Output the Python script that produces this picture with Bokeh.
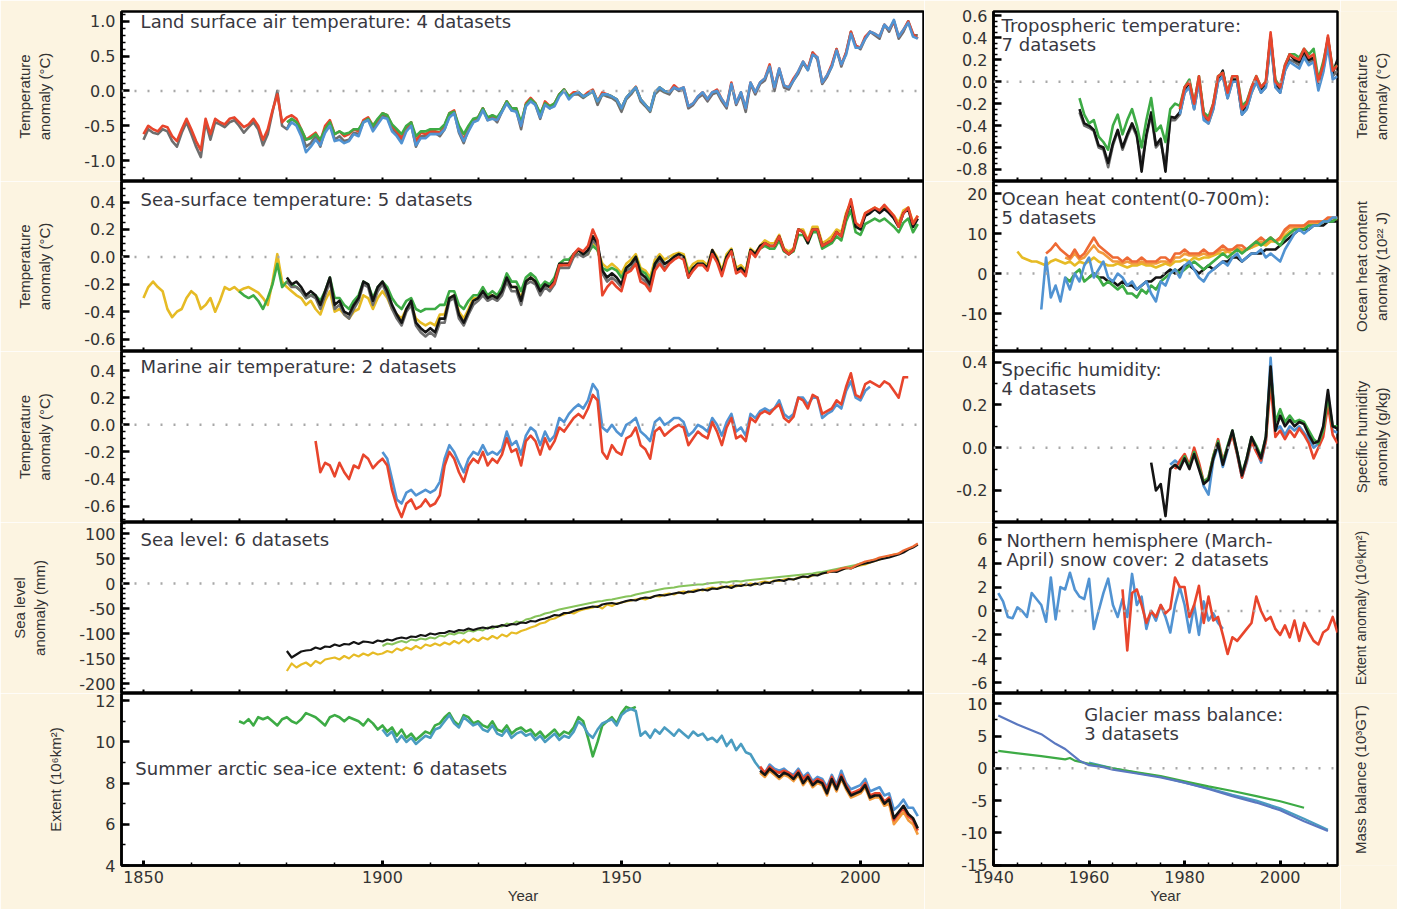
import math
from bokeh.plotting import figure
from bokeh.layouts import row, column
from bokeh.models import Range1d, FixedTicker, Span, Label, NumeralTickFormatter
from bokeh.embed import file_html
from bokeh.resources import INLINE

# ======================= DATA =======================
# ---- Land surface air temperature (degC) ----
LAND_GRAY_START = 1850
LAND_GRAY = [-.70,-.55,-.60,-.62,-.55,-.58,-.72,-.80,-.60,-.45,
             -.62,-.80,-.95,-.45,-.70,-.45,-.48,-.52,-.45,-.42,
             -.50,-.60,-.52,-.45,-.55,-.78,-.62,-.30,.00,-.50,
             -.55,-.40,-.45,-.60,-.80,-.75,-.65,-.80,-.55,-.45,
             -.70,-.65,-.72,-.70,-.60,-.62,-.45,-.40,-.55,-.45,
             -.35,-.38,-.55,-.62,-.72,-.55,-.48,-.80,-.65,-.65,
             -.60,-.60,-.65,-.55,-.35,-.30,-.60,-.75,-.55,-.45,
             -.40,-.25,-.42,-.38,-.45,-.30,-.15,-.28,-.28,-.55,
             -.20,-.12,-.20,-.40,-.18,-.25,-.20,-.05,.02,-.10,
             -.05,-.05,-.10,-.05,.00,-.20,-.05,-.08,-.10,-.15,
             -.30,-.12,-.05,.05,-.15,-.22,-.30,-.05,.02,-.02,
             -.05,.05,.00,.02,-.25,-.20,-.10,-.05,-.15,-.05,
             -.02,-.15,-.25,.10,-.20,-.05,-.30,.10,-.05,.10,
             .15,.35,.00,.30,.05,.02,.15,.25,.40,.30,
             .55,.45,.10,.20,.35,.60,.35,.55,.85,.65,
             .60,.75,.85,.80,.75,.95,.85,1.00,.75,.85,
             1.00,.80,.80]
LAND_RED_START = 1850
LAND_RED = [-.62,-.50,-.55,-.58,-.50,-.52,-.65,-.72,-.55,-.40,
            -.55,-.72,-.85,-.40,-.62,-.40,-.45,-.48,-.40,-.38,
            -.45,-.52,-.48,-.40,-.50,-.70,-.55,-.28,-.05,-.45,
            -.38,-.35,-.40,-.55,-.70,-.65,-.60,-.72,-.50,-.42,
            -.62,-.58,-.65,-.62,-.55,-.58,-.42,-.38,-.50,-.42,
            -.32,-.35,-.50,-.58,-.68,-.52,-.45,-.72,-.60,-.62,
            -.58,-.58,-.60,-.50,-.32,-.28,-.55,-.70,-.52,-.42,
            -.38,-.25,-.40,-.35,-.42,-.28,-.15,-.25,-.25,-.50,
            -.18,-.10,-.18,-.35,-.15,-.22,-.18,-.05,.02,-.08,
            -.02,-.02,-.08,-.02,.02,-.15,-.02,-.05,-.08,-.12,
            -.25,-.10,-.02,.06,-.12,-.20,-.28,-.02,.05,.00,
            -.02,.08,.02,.05,-.22,-.18,-.08,-.02,-.12,-.02,
            .02,-.12,-.22,.12,-.18,-.02,-.25,.12,-.02,.12,
            .18,.38,.05,.32,.08,.05,.18,.28,.42,.32,
            .55,.48,.12,.22,.38,.60,.38,.55,.85,.65,
            .62,.78,.85,.82,.78,.95,.88,1.00,.78,.88,
            1.00,.82,.75]
LAND_GREEN_START = 1880
LAND_GREEN = [-.45,-.40,-.45,-.55,-.70,-.68,-.62,-.70,-.55,-.45,
              -.62,-.58,-.62,-.60,-.55,-.55,-.45,-.40,-.50,-.40,
              -.32,-.35,-.48,-.55,-.62,-.50,-.45,-.65,-.58,-.58,
              -.55,-.55,-.55,-.48,-.32,-.30,-.50,-.62,-.50,-.40,
              -.38,-.25,-.38,-.35,-.38,-.28,-.15,-.25,-.25,-.45,
              -.20,-.12,-.18,-.32,-.18,-.22,-.18,-.05,.02,-.08,
              -.05,-.02,-.08,-.05,.00,-.15,-.05,-.05,-.08,-.12,
              -.25,-.10,-.02,.05,-.12,-.20,-.28,-.02,.05,.00,
              -.02]
LAND_BLUE_START = 1880
LAND_BLUE = [-.55,-.45,-.50,-.65,-.88,-.80,-.70,-.78,-.60,-.50,
             -.72,-.70,-.75,-.72,-.62,-.65,-.45,-.42,-.58,-.48,
             -.38,-.40,-.58,-.65,-.75,-.58,-.50,-.78,-.68,-.68,
             -.62,-.62,-.62,-.55,-.38,-.32,-.58,-.72,-.58,-.45,
             -.42,-.28,-.42,-.40,-.42,-.30,-.18,-.28,-.30,-.50,
             -.22,-.15,-.20,-.38,-.20,-.25,-.22,-.08,.00,-.12,
             -.05,-.02,-.08,-.05,.00,-.15,-.05,-.05,-.08,-.12,
             -.25,-.10,-.02,.05,-.12,-.20,-.28,-.02,.05,.00,
             -.02,.05,.02,.05,-.22,-.18,-.08,-.02,-.12,-.02,
             .00,-.12,-.22,.10,-.18,-.02,-.25,.12,-.02,.12,
             .18,.35,.05,.32,.08,.05,.15,.28,.42,.30,
             .52,.48,.12,.22,.35,.58,.38,.52,.82,.62,
             .62,.75,.85,.82,.78,.95,.88,1.02,.78,.88,
             .98,.78,.75]

# ---- Sea-surface temperature (degC) ----
SST_YELLOW_START = 1850
SST_YELLOW = [-.30,-.22,-.18,-.22,-.25,-.38,-.44,-.40,-.38,-.30,
              -.25,-.28,-.38,-.35,-.30,-.40,-.32,-.22,-.24,-.22,
              -.25,-.23,-.22,-.24,-.26,-.30,-.35,-.18,.02,-.18,
              -.22,-.25,-.28,-.30,-.35,-.32,-.38,-.42,-.32,-.25,
              -.40,-.38,-.42,-.45,-.40,-.38,-.28,-.30,-.38,-.30,
              -.25,-.30,-.38,-.42,-.45,-.38,-.35,-.45,-.48,-.50,
              -.48,-.50,-.42,-.42,-.30,-.28,-.40,-.45,-.38,-.30,
              -.30,-.25,-.28,-.28,-.30,-.25,-.18,-.22,-.22,-.30,
              -.18,-.15,-.18,-.25,-.20,-.22,-.18,-.08,-.05,-.05,
              .00,.05,.02,.02,.10,.05,-.05,-.08,-.05,-.08,
              -.12,-.05,-.02,.02,-.08,-.10,-.15,-.02,.02,-.02,
              .00,.02,.03,.02,-.10,-.05,-.03,-.03,-.06,.05,
              .00,-.10,.02,.06,-.08,-.06,-.10,.06,.03,.08,
              .12,.10,.10,.16,.06,.04,.06,.20,.20,.12,
              .22,.22,.10,.12,.15,.20,.18,.32,.40,.24,
              .22,.32,.34,.36,.34,.36,.34,.30,.25,.34,
              .36,.25,.30]
SST_GREEN_START = 1870
SST_GREEN = [-.25,-.28,-.30,-.28,-.32,-.38,-.30,-.20,-.05,-.22,
             -.18,-.20,-.22,-.25,-.30,-.28,-.28,-.32,-.25,-.15,
             -.30,-.30,-.35,-.38,-.32,-.28,-.18,-.20,-.30,-.22,
             -.18,-.22,-.30,-.35,-.38,-.32,-.30,-.38,-.40,-.38,
             -.38,-.38,-.35,-.35,-.25,-.25,-.35,-.38,-.32,-.28,
             -.28,-.22,-.28,-.25,-.28,-.22,-.12,-.18,-.18,-.25,
             -.15,-.12,-.15,-.22,-.18,-.20,-.15,-.05,-.02,-.02,
             .02,.05,.02,.03,.08,.05,-.08,-.10,-.08,-.10,
             -.15,-.08,-.05,.00,-.10,-.12,-.18,-.05,.00,-.05,
             -.03,.00,.02,.00,-.12,-.08,-.05,-.05,-.08,.03,
             -.02,-.12,.00,.05,-.10,-.08,-.12,.05,.02,.06,
             .08,.06,.06,.12,.04,.02,.04,.16,.16,.10,
             .18,.18,.06,.08,.10,.15,.12,.26,.34,.18,
             .16,.24,.26,.28,.26,.28,.25,.22,.18,.25,
             .28,.18,.24]
SST_GRAY_START = 1880
SST_GRAY = [-.18,-.22,-.22,-.25,-.30,-.28,-.30,-.38,-.28,-.18,
            -.38,-.35,-.42,-.45,-.38,-.32,-.20,-.22,-.35,-.25,
            -.20,-.28,-.38,-.45,-.50,-.40,-.35,-.50,-.55,-.58,
            -.55,-.58,-.48,-.48,-.32,-.30,-.45,-.50,-.42,-.35,
            -.32,-.28,-.32,-.30,-.32,-.28,-.18,-.25,-.25,-.35,
            -.20,-.18,-.20,-.28,-.22,-.25,-.20,-.08,-.08,-.08,
            .00,.02,.00,.02,.12,.08,-.12,-.18,-.15,-.18,
            -.22,-.10,-.08,-.02,-.15,-.18,-.22,-.08,-.02,-.08,
            -.05]
SST_BLACK_START = 1880
SST_BLACK = [-.15,-.20,-.18,-.22,-.28,-.25,-.28,-.35,-.25,-.15,
             -.35,-.32,-.40,-.42,-.35,-.30,-.18,-.20,-.32,-.22,
             -.18,-.25,-.35,-.42,-.48,-.38,-.32,-.48,-.52,-.55,
             -.52,-.55,-.45,-.45,-.30,-.28,-.42,-.48,-.40,-.32,
             -.30,-.25,-.30,-.28,-.30,-.25,-.15,-.22,-.22,-.32,
             -.18,-.15,-.18,-.25,-.20,-.22,-.18,-.05,-.05,-.05,
             .02,.05,.02,.05,.15,.10,-.10,-.15,-.12,-.15,
             -.20,-.08,-.05,.00,-.12,-.15,-.20,-.05,.00,-.05,
             -.03,.00,.02,.00,-.15,-.08,-.05,-.05,-.08,.05,
             -.02,-.12,.00,.05,-.10,-.08,-.12,.05,.02,.08,
             .10,.08,.08,.15,.05,.02,.05,.20,.18,.10,
             .20,.20,.08,.10,.12,.18,.15,.30,.40,.22,
             .20,.30,.32,.35,.32,.35,.32,.28,.22,.32,
             .35,.22,.28]
SST_RED_START = 1935
SST_RED = [-.23,-.19,-.06,-.06,-.06,
           .02,.06,.04,.08,.20,.12,-.28,-.22,-.18,-.22,
           -.25,-.12,-.10,-.05,-.18,-.20,-.25,-.10,-.05,-.10,
           -.05,-.02,.00,-.02,-.15,-.10,-.06,-.06,-.10,.02,
           -.04,-.14,-.02,.04,-.12,-.10,-.14,.04,.00,.06,
           .10,.08,.08,.15,.05,.02,.05,.20,.18,.12,
           .20,.20,.08,.10,.12,.18,.15,.30,.42,.25,
           .22,.32,.34,.36,.34,.38,.34,.30,.22,.32,
           .36,.24,.30]

# ---- Marine air temperature (degC) ----
MAT_RED_START = 1886
MAT_RED = [-.12,-.35,-.28,-.30,
           -.38,-.28,-.35,-.40,-.30,-.32,-.22,-.25,-.32,-.28,
           -.25,-.30,-.48,-.60,-.68,-.58,-.55,-.62,-.60,-.55,
           -.60,-.58,-.52,-.30,-.20,-.25,-.35,-.42,-.30,-.25,
           -.28,-.20,-.30,-.25,-.28,-.22,-.10,-.20,-.18,-.30,
           -.12,-.08,-.12,-.22,-.10,-.18,-.12,-.02,-.05,.00,
           .05,.08,.05,.12,.22,.18,-.20,-.25,-.15,-.20,
           -.22,-.10,-.08,-.02,-.15,-.18,-.25,-.05,-.02,-.08,
           -.05,-.02,.00,-.02,-.15,-.10,-.05,-.08,-.10,.02,
           -.05,-.15,-.02,.05,-.10,-.08,-.12,.05,.02,.08,
           .10,.08,.12,.15,.05,.02,.06,.20,.18,.12,
           .22,.20,.08,.10,.12,.18,.15,.28,.38,.22,
           .20,.30,.32,.30,.28,.32,.30,.25,.20,.35,
           .35]
MAT_BLUE_START = 1900
MAT_BLUE = [-.20,-.25,-.40,-.55,-.58,-.50,-.48,-.52,-.50,-.48,
            -.50,-.48,-.42,-.25,-.15,-.20,-.28,-.35,-.25,-.20,
            -.22,-.15,-.22,-.20,-.22,-.18,-.05,-.15,-.12,-.22,
            -.08,-.02,-.05,-.15,-.05,-.12,-.08,.05,.02,.08,
            .12,.15,.12,.18,.30,.25,-.02,-.05,.00,-.05,
            -.08,.00,.02,.05,-.05,-.08,-.12,.02,.05,.00,
            .02,.05,.05,.02,-.08,-.05,.00,-.02,-.05,.05,
            .00,-.08,.02,.08,-.05,-.02,-.08,.08,.05,.10,
            .12,.10,.12,.18,.08,.05,.08,.20,.20,.15,
            .20,.20,.05,.08,.10,.15,.12,.25,.32,.20,
            .18,.25,.28]

# ---- Sea level (mm) ----
SL_BLACK_START = 1880
SL_BLACK = [-135,-148,-142,-136,-134,-133,-128,-131,-126,-127,
            -122,-125,-121,-122,-117,-121,-116,-117,-119,-114,
            -116,-112,-114,-110,-108,-110,-106,-107,-103,-105,
            -100,-102,-99,-99,-95,-97,-93,-94,-90,-93,
            -90,-88,-90,-86,-87,-83,-85,-81,-82,-78,
            -79,-75,-76,-72,-70,-67,-63,-64,-59,-59,
            -55,-52,-50,-48,-46,-47,-42,-40,-39,-41,
            -38,-35,-33,-34,-30,-28,-29,-25,-23,-24,
            -22,-20,-18,-20,-16,-17,-14,-12,-14,-10,
            -11,-8,-6,-9,-4,-5,-2,-4,0,-2,
            2,1,5,7,5,9,8,11,14,13,
            17,16,20,22,24,23,27,31,30,34,
            38,40,42,45,48,50,52,55,58,62,
            68,72,78]
SL_YELLOW_START = 1880
SL_YELLOW = [-175,-160,-168,-162,-158,-165,-155,-160,-152,-150,
             -148,-152,-145,-150,-142,-146,-140,-144,-138,-142,
             -140,-135,-138,-130,-134,-128,-132,-125,-130,-122,
             -125,-120,-124,-118,-122,-115,-120,-112,-118,-110,
             -115,-108,-112,-105,-110,-102,-106,-98,-100,-95,
             -92,-88,-85,-80,-78,-72,-70,-65,-62,-58,
             -60,-55,-52,-50,-48,-45,-50,-42,-45,-40,
             -38,-36,-34,-32,-30,-32,-28,-25,-26,-22,
             -20,-22,-18,-16,-18,-14,-12,-14,-10,-8,
             -10,-6,-8,-4,-6,-2,-4,0,-2,2,
             4,2,6,5,8,10,8,12,14,12,
             16,18,20,22,24,26,28,30,32,34,
             36,38,42,45,48,52,55,58,60,64,
             68]
SL_GREEN_START = 1900
SL_GREEN = [-125,-120,-122,-118,-115,-118,-112,-114,-110,-112,
            -108,-110,-104,-106,-100,-102,-98,-100,-94,-96,
            -92,-94,-88,-90,-85,-86,-80,-82,-76,-78,
            -72,-70,-66,-64,-60,-58,-55,-52,-50,-48,
            -46,-44,-42,-40,-38,-36,-35,-33,-32,-30,
            -28,-26,-25,-22,-20,-18,-16,-14,-12,-10,
            -9,-8,-6,-5,-4,-3,-2,-2,0,1,
            2,3,2,4,5,4,6,7,8,9,
            10,11,12,13,14,15,16,17,18,19,
            20,22,23,25,27,29,31,33,35,37,
            40,42,45,48,50,53]
SL_ORANGE_START = 1993
SL_ORANGE = [22,25,26,30,32,30,36,40,44,46,48,52,54,56,58,60,66,70,74,80]

# ---- Summer arctic sea-ice extent (10^6 km2) ----
ICE_GREEN_START = 1870
ICE_GREEN = [11.0,10.9,11.1,10.8,11.2,11.1,11.2,11.0,10.8,11.1,
             11.2,11.0,10.9,11.1,11.4,11.3,11.2,11.0,10.8,11.2,
             11.3,11.2,11.0,11.2,11.1,11.0,10.8,11.1,10.9,10.6,
             10.8,10.5,10.7,10.3,10.6,10.2,10.4,10.1,10.3,10.5,
             10.4,10.8,10.9,11.2,11.4,11.0,10.8,11.3,11.2,10.9,
             11.0,10.8,10.7,11.0,10.6,10.5,10.8,10.4,10.6,10.7,
             10.5,10.6,10.3,10.5,10.2,10.4,10.6,10.3,10.5,10.4,
             10.7,11.2,11.0,10.2,9.3,10.0,10.8,11.0,11.2,10.9,
             11.4,11.7,11.6,11.7]
ICE_TEAL_START = 1900
ICE_TEAL = [10.6,10.3,10.5,10.0,10.3,10.0,10.2,9.9,10.1,10.3,
            10.2,10.6,10.7,11.0,11.3,10.9,10.7,11.2,11.0,10.8,
            10.9,10.6,10.5,10.8,10.4,10.3,10.6,10.2,10.4,10.5,
            10.3,10.4,10.1,10.3,10.0,10.2,10.4,10.1,10.3,10.2,
            10.5,11.0,10.8,10.4,10.2,10.6,10.9,11.0,11.1,10.8,
            11.3,11.5,11.6,11.5,10.3,10.5,10.2,10.6,10.4,10.7,
            10.5,10.3,10.6,10.4,10.2,10.5,10.3,10.4,10.1,10.2,
            10.0,10.3,9.8,10.1,9.6,9.9,9.5,9.4,9.0,8.7]
ICE_SAT_START = 1979
ICE_BLUE = [8.7,8.5,8.9,8.7,8.6,8.7,8.5,8.4,8.7,8.3,8.5,8.1,8.3,8.2,7.8,8.4,7.9,
            8.6,8.0,7.7,7.8,7.9,8.2,7.6,7.7,7.8,7.4,7.5,6.7,6.9,7.2,6.8,6.8,6.4]
ICE_RED = [8.8,8.5,8.8,8.6,8.5,8.6,8.5,8.3,8.6,8.2,8.4,8.0,8.2,8.1,7.7,8.3,7.8,
           8.4,7.9,7.5,7.6,7.7,8.0,7.4,7.5,7.5,7.1,7.3,6.2,6.5,6.8,6.4,6.2,5.7]
ICE_ORANGE = [8.5,8.3,8.6,8.4,8.2,8.4,8.3,8.1,8.4,7.9,8.2,7.8,8.0,7.9,7.4,8.1,7.6,
              8.2,7.7,7.3,7.4,7.5,7.8,7.2,7.3,7.3,6.9,7.0,6.0,6.3,6.6,6.2,6.0,5.5]
ICE_BLACK = [8.6,8.4,8.7,8.5,8.3,8.5,8.4,8.2,8.5,8.0,8.3,7.9,8.1,8.0,7.5,8.2,7.7,
             8.3,7.8,7.4,7.5,7.6,7.9,7.3,7.4,7.4,7.0,7.2,6.3,6.6,6.9,6.5,6.3,5.8]

# ---- Tropospheric temperature (degC) ----
TROP_SONDE_START = 1958
TROP_GRAY = [-.28,-.40,-.42,-.45,-.60,-.62,-.78,-.58,-.45,-.62,-.50,-.40,-.50,-.75,-.50,-.30,-.60,-.55,-.76,-.35,-.35,
             -.30,-.10,-.05,-.25,.00,-.32,-.38,-.25,.00,.05,-.15,.00,.00,-.30,-.25,-.10,.00,-.10,-.05,.40,
             -.05,-.10,.10,.20,.18,.15,.25,.18,.20,-.05,.10,.38,.05,.10]
TROP_BLACK = [-.25,-.38,-.40,-.44,-.58,-.60,-.74,-.56,-.44,-.60,-.48,-.38,-.48,-.82,-.48,-.28,-.58,-.52,-.82,-.32,-.33,
              -.28,-.08,.00,-.22,.02,-.30,-.35,-.22,.02,.10,-.12,.02,.02,-.28,-.22,-.08,.02,-.08,-.02,.42,
              -.02,-.08,.12,.25,.20,.18,.28,.20,.22,-.02,.12,.40,.08,.20]
TROP_GREEN = [-.15,-.30,-.38,-.35,-.50,-.55,-.62,-.40,-.30,-.48,-.35,-.25,-.40,-.60,-.35,-.15,-.45,-.40,-.55,-.25,-.20,
              -.22,-.05,.02,-.20,.05,-.28,-.32,-.20,.05,.08,-.10,.05,.05,-.22,-.18,-.05,.05,-.05,.00,.38,
              .02,-.05,.15,.25,.25,.22,.30,.25,.30,.02,.18,.38,.12,.15]
TROP_SAT_START = 1979
TROP_BLUE = [-.30,-.10,-.05,-.25,.00,-.35,-.38,-.25,.00,.05,-.15,.00,.00,-.30,-.25,-.10,.00,
             -.10,-.05,.38,-.05,-.10,.10,.18,.15,.12,.22,.15,.18,-.08,.08,.32,.02,.05]
TROP_RED = [-.25,-.05,.00,-.20,.05,-.30,-.35,-.20,.05,.08,-.10,.05,.05,-.25,-.20,-.05,.05,
            -.05,.00,.45,.00,-.05,.15,.25,.22,.20,.30,.22,.25,.00,.15,.42,.10,.15]

# ---- Ocean heat content 0-700 m (10^22 J) ----
OHC_YELLOW_START = 1945
OHC_YELLOW = [5.5,4,3.5,3,3,
              2.5,2,3,3.5,3,2.5,3,2,3,2.5,
              3,4,3,2.5,2,2,2.5,2,1.5,2,
              2,2.5,2,2,1.5,2,2.5,2,3,3,
              3.5,3,4,3.5,4,4,4.5,5,5,5.5,
              5,6,5.5,6,6.5,7,7.5,7,8,8,
              8.5,9.5,10.5,11,11.5,11.5,12,12,12.5,13,
              13,13.5,13.5]
OHC_LORANGE_START = 1955
OHC_LORANGE = [4,3.5,5,3.5,4,
               5.5,7,5.5,5,4,3,3,2.5,3,2.5,
               2.5,3,2.5,2.5,2.5,3,3,2.5,4,4,
               5,4.5,4.5,4.5,5,4.5,5,5.5,6,5.5,
               6,6.5,6,6,6.5,7.5,8,7.5,8.5,8,
               9,10.5,11.5,11.5,11.5,12,12.5,12.5,13,13,
               13.5,13.5,14]
OHC_ORANGE_START = 1951
OHC_ORANGE = [5,6,7.5,6,5,4,6,4,5,
              7,9,7,6,5,4,4,3,4,3,
              3,4,3,3,3,4,4,3,5,5,
              6,5,5,5,6,5,5,6,7,6,
              6,7,7,6,7,8,9,8,9,8,
              9,11,12,12,12,12,13,13,13,13,
              14,14,14]
OHC_GREEN_START = 1955
OHC_GREEN = [-1,-2,0,1,-2,
             -1,0,-1,-3,-2,-3,-4,-3,-5,-5,
             -6,-4,-5,-3,-4,-2,-1,0,1,0,
             1,2,3,2,1,2,3,4,5,4,
             5,6,5,6,7,8,7,8,9,8,
             7,9,10,11,11,11,12,12,12,13,
             13,13,14]
OHC_BLACK_START = 1960
OHC_BLACK = [-1,0,-1,-1,-2,-2,-3,-2,-3,-3,
             -4,-3,-2,-2,-1,-1,0,1,0,1,
             2,2,1,0,1,2,1,2,3,3,
             4,4,3,4,5,5,5,6,6,6,
             7,8,9,10,11,11,11,12,12,12,
             13,13,13]
OHC_BLUE_START = 1950
OHC_BLUE = [-9,4,-6,-3,-7,-1,-4,0,-2,2,
            4,-1,1,3,-1,-2,0,-1,-3,-2,
            -4,-3,-2,-5,-7,-2,-3,0,1,-1,
            2,3,1,-1,-2,0,1,2,3,2,
            4,5,3,4,5,5,6,4,5,4,
            3,6,8,10,11,10,11,12,12,13,
            13,14,14]

# ---- Specific humidity (g/kg) ----
HUM_BLUE_START = 1977
HUM_BLUE = [-.08,-.06,-.08,
            -.04,-.09,-.02,-.08,-.18,-.22,-.06,.01,-.09,-.01,
            .07,-.03,-.14,-.07,.03,-.01,-.07,.03,.42,.08,
            .10,.06,.10,.08,.10,.07,.04,.00,.02,.07,
            .22,.08,.07]
HUM_RED_START = 1978
HUM_RED = [-.10,-.06,
           -.03,-.08,.00,-.07,-.16,-.14,-.04,.04,-.06,.00,
           .06,-.03,-.14,-.06,.03,-.02,-.06,.03,.30,.05,
           .08,.04,.08,.05,.09,.06,.02,-.05,.00,.05,
           .20,.06,.02]
HUM_GREEN_START = 1979
HUM_GREEN = [-.09,
             -.04,-.09,-.02,-.09,-.16,-.14,-.04,.03,-.07,.01,
             .08,-.02,-.12,-.05,.05,.01,-.04,.05,.36,.12,
             .18,.12,.15,.12,.13,.12,.08,.04,.02,.08,
             .24,.10,.10]
HUM_BLACK_START = 1973
HUM_BLACK = [-.07,-.20,-.17,-.32,-.10,-.08,-.10,
             -.05,-.10,-.03,-.10,-.17,-.15,-.05,.02,-.08,.00,
             .08,-.02,-.13,-.05,.05,.00,-.05,.05,.38,.08,
             .15,.10,.13,.10,.12,.11,.06,.02,.03,.10,
             .27,.10,.09]

# ---- NH (March-April) snow cover (10^6 km2) ----
SNOW_BLUE_START = 1941
SNOW_BLUE = [1.5,0.8,-0.5,-0.6,0.3,0.0,-0.5,1.5,1.0,0.5,
             -0.9,2.8,-0.7,2.0,1.8,3.2,1.8,1.2,1.0,2.7,
             -1.5,0.0,1.5,2.7,0.5,-0.5,1.0,-0.5,3.1,0.5,
             1.2,-1.5,0.0,-0.8,0.5,-0.5,-1.8,0.5,2.0,0.5,
             -1.8,0.5,-2.0,0.8,-0.8,-0.2,-1.0,-1.5]
SNOW_RED_START = 1967
SNOW_RED = [1.8,-3.3,1.5,
            1.8,0.5,-1.0,0.0,-0.5,0.5,-0.2,0.2,2.8,2.0,
            2.0,-0.5,0.5,2.1,-1.0,1.2,-0.8,-0.5,-2.0,-3.6,
            -2.2,-2.5,-2.0,-1.5,-1.0,1.2,0.0,-0.8,-0.5,-1.5,
            -2.0,-1.2,-2.2,-0.8,-2.5,-1.0,-1.8,-2.5,-2.8,-1.8,
            -1.5,-0.5,-1.8]

# ---- Glacier mass balance (cumulative, 10^3 GT) ----
GLAC_BLUE_YEARS = [1941,1945,1950,1953,1955,1958,1960,1963,1965,1970,1975,1980,1985,1990,1995,2000,2005,2010]
GLAC_BLUE = [8.2,6.8,5.3,3.8,3.0,1.2,0.5,0.2,-0.2,-0.8,-1.4,-2.2,-3.2,-4.3,-5.3,-6.5,-8.2,-9.7]
GLAC_GREEN_YEARS = [1941,1950,1955,1956,1957,1960,1965,1970,1975,1980,1985,1990,1995,2000,2005]
GLAC_GREEN = [2.7,1.9,1.4,1.6,1.2,0.7,0.0,-0.6,-1.2,-2.0,-2.8,-3.5,-4.3,-5.1,-6.1]
GLAC_TEAL_YEARS = [1960,1965,1970,1975,1980,1985,1990,1995,2000,2005,2010]
GLAC_TEAL = [0.9,0.0,-0.7,-1.3,-2.2,-3.1,-4.1,-5.0,-6.2,-7.8,-9.5]

# ======================= STYLE =======================
CREAM = "#fcf4e1"
TXT = "#333333"
TITLE_TXT = "#38383f"
TICK_FONT = "DejaVu Sans"
LAB_FONT = "Liberation Sans"

GRAY = "#6e6e6e"
RED = "#e8452c"
GREEN = "#3dab45"
BLUE = "#5193d2"
BLACK = "#141414"
YELLOW = "#e6bb25"
ORANGE = "#f29a3c"
DORANGE = "#ee6a35"
TEAL = "#4a9cc0"
SLATE = "#5a78c0"
LGREEN = "#86c35a"

LEFT_BL, LEFT_FW = 121, 803
RIGHT_BL, RIGHT_FW, RIGHT_BR = 69, 344, 3
LABEL_W = 57
FRAME_H = [170, 170, 171, 171, 172]
TOP_B, BOT_B = 11, 44


def steps(a, b, s):
    n = int(round((b - a) / s))
    return [round(a + k * s, 4) for k in range(n + 1)]


def yrs(start, vals):
    return list(range(start, start + len(vals)))


def make_panel(side, i, yr, majors, minors, fmt, ylabel, title_lines, tx, ty, series):
    left = side == "L"
    fw = LEFT_FW if left else RIGHT_FW
    bl = LEFT_BL if left else RIGHT_BL
    br = 0 if left else RIGHT_BR
    bt = TOP_B if i == 0 else 0
    bb = BOT_B if i == 4 else 0
    xr = (1845.4, 2013.4) if left else (1940.0, 2012.0)
    p = figure(width=bl + fw + br, height=bt + FRAME_H[i] + bb,
               x_range=Range1d(*xr), y_range=Range1d(*yr),
               output_backend="svg", toolbar_location=None,
               min_border_left=bl, min_border_right=br,
               min_border_top=bt, min_border_bottom=bb,
               background_fill_color="white", border_fill_color=CREAM,
               outline_line_color="black", outline_line_width=2.5)
    p.grid.visible = False

    # y axis (left)
    ya = p.yaxis[0]
    ya.ticker = FixedTicker(ticks=majors, minor_ticks=minors)
    ya.formatter = NumeralTickFormatter(format=fmt)
    ya.axis_line_width = 2.5
    ya.major_tick_in = 8
    ya.major_tick_out = 0
    ya.major_tick_line_width = 2.5
    ya.minor_tick_in = 4
    ya.minor_tick_out = 0
    ya.minor_tick_line_width = 1.5
    ya.major_label_text_font = TICK_FONT
    ya.major_label_text_font_size = "16px"
    ya.major_label_text_color = TXT
    ya.major_label_standoff = 6
    if left:
        ya.axis_label = ylabel
        ya.axis_label_text_font = LAB_FONT
        ya.axis_label_text_font_size = "15px"
        ya.axis_label_text_font_style = "normal"
        ya.axis_label_text_color = TXT
        ya.axis_label_standoff = 28

    # x axis (below)
    xa = p.xaxis[0]
    if left:
        xmaj, xmin = [1850, 1900, 1950, 2000], steps(1850, 2010, 10)
    else:
        xmaj, xmin = [1940, 1960, 1980, 2000], steps(1940, 2010, 5)
    xa.axis_line_width = 2.5
    xa.major_tick_out = 0
    xa.minor_tick_out = 0
    if i == 4:
        xa.ticker = FixedTicker(ticks=xmaj, minor_ticks=xmin)
        xa.major_tick_in = 5
        xa.major_tick_line_width = 3
        xa.minor_tick_in = 3
        xa.minor_tick_line_width = 1.5
        xa.major_label_text_font = TICK_FONT
        xa.major_label_text_font_size = "16px"
        xa.major_label_text_color = TXT
        xa.major_label_standoff = 5
        xa.axis_label = "Year"
        xa.axis_label_text_font = LAB_FONT
        xa.axis_label_text_font_size = "15px"
        xa.axis_label_text_font_style = "normal"
        xa.axis_label_text_color = TXT
        xa.axis_label_standoff = 1
    else:
        # tick marks only, no labels on stacked panels
        xa.ticker = FixedTicker(ticks=[], minor_ticks=xmin)
        xa.minor_tick_in = 4
        xa.minor_tick_line_width = 2
        xa.major_label_standoff = 0

    if yr[0] < 0 < yr[1]:
        p.add_layout(Span(location=0, dimension="width", line_color="#a8a8a8",
                          line_width=2.5, line_dash="2 11"))

    for xs, ys, col, lw in series:
        p.line(xs, ys, line_color=col, line_width=lw, line_join="round")

    for k, t in enumerate(title_lines):
        p.add_layout(Label(x=tx, y=ty, text=t, text_font="DejaVu Sans", text_font_size="18px",
                           text_color=TITLE_TXT, text_baseline="middle", text_align="left",
                           y_offset=-19 * k))
    return p


def make_side_label(i, text, size):
    """Narrow strip to the right of a right-hand panel holding its y-axis title (reads bottom-to-top)."""
    bt = TOP_B if i == 0 else 0
    bb = BOT_B if i == 4 else 0
    f = figure(width=LABEL_W, height=bt + FRAME_H[i] + bb,
               x_range=Range1d(0, 1), y_range=Range1d(0, 1),
               output_backend="svg", toolbar_location=None,
               min_border_left=0, min_border_right=0, min_border_top=bt, min_border_bottom=bb,
               background_fill_color=CREAM, border_fill_color=CREAM, outline_line_color=None)
    f.axis.visible = False
    f.grid.visible = False
    two = "\n" in text
    f.add_layout(Label(x=0, y=0.5, x_offset=31 if two else 20, text=text, angle=math.pi / 2,
                       text_align="center", text_baseline="middle",
                       text_font=LAB_FONT, text_font_size=size, text_color=TXT))
    return f


LW = 2.6
left_panels = [
    make_panel("L", 0, (-1.30, 1.14), [-1.0, -0.5, 0.0, 0.5, 1.0], steps(-1.3, 1.1, 0.1), "0.0",
               "Temperature\nanomaly (°C)", ["Land surface air temperature: 4 datasets"], 1849.4, 0.99,
               [(yrs(LAND_GRAY_START, LAND_GRAY), LAND_GRAY, GRAY, LW),
                (yrs(LAND_RED_START, LAND_RED), LAND_RED, RED, LW),
                (yrs(LAND_GREEN_START, LAND_GREEN), LAND_GREEN, GREEN, LW),
                (yrs(LAND_BLUE_START, LAND_BLUE), LAND_BLUE, BLUE, LW)]),
    make_panel("L", 1, (-0.69, 0.55), [-0.6, -0.4, -0.2, 0.0, 0.2, 0.4], steps(-0.65, 0.55, 0.05), "0.0",
               "Temperature\nanomaly (°C)", ["Sea-surface temperature: 5 datasets"], 1849.4, 0.42,
               [(yrs(SST_YELLOW_START, SST_YELLOW), SST_YELLOW, YELLOW, LW),
                (yrs(SST_GREEN_START, SST_GREEN), SST_GREEN, GREEN, LW),
                (yrs(SST_GRAY_START, SST_GRAY), SST_GRAY, GRAY, LW),
                (yrs(SST_BLACK_START, SST_BLACK), SST_BLACK, BLACK, LW),
                (yrs(SST_RED_START, SST_RED), SST_RED, RED, LW)]),
    make_panel("L", 2, (-0.72, 0.54), [-0.6, -0.4, -0.2, 0.0, 0.2, 0.4], steps(-0.7, 0.5, 0.05), "0.0",
               "Temperature\nanomaly (°C)", ["Marine air temperature: 2 datasets"], 1849.4, 0.43,
               [(yrs(MAT_BLUE_START, MAT_BLUE), MAT_BLUE, BLUE, LW),
                (yrs(MAT_RED_START, MAT_RED), MAT_RED, RED, LW)]),
    make_panel("L", 3, (-220, 122), steps(-200, 100, 50), steps(-210, 120, 10), "0",
               "Sea level\nanomaly (mm)", ["Sea level: 6 datasets"], 1849.4, 88,
               [(yrs(SL_YELLOW_START, SL_YELLOW), SL_YELLOW, YELLOW, 2.2),
                (yrs(SL_GREEN_START, SL_GREEN), SL_GREEN, LGREEN, 2.0),
                (yrs(SL_BLACK_START, SL_BLACK), SL_BLACK, BLACK, 2.2),
                (yrs(SL_ORANGE_START, SL_ORANGE), SL_ORANGE, DORANGE, 2.2)]),
    make_panel("L", 4, (4.0, 12.35), steps(4, 12, 2), steps(4, 12, 1), "0",
               "Extent (10⁶km²)", ["Summer arctic sea-ice extent: 6 datasets"], 1848.3, 8.7,
               [(yrs(ICE_GREEN_START, ICE_GREEN), ICE_GREEN, GREEN, LW),
                (yrs(ICE_TEAL_START, ICE_TEAL), ICE_TEAL, TEAL, LW),
                (yrs(ICE_SAT_START, ICE_BLUE), ICE_BLUE, BLUE, LW),
                (yrs(ICE_SAT_START, ICE_ORANGE), ICE_ORANGE, ORANGE, LW),
                (yrs(ICE_SAT_START, ICE_RED), ICE_RED, RED, LW),
                (yrs(ICE_SAT_START, ICE_BLACK), ICE_BLACK, BLACK, LW)]),
]

right_panels = [
    make_panel("R", 0, (-0.91, 0.64), steps(-0.8, 0.6, 0.2), steps(-0.9, 0.6, 0.05), "0.0",
               None, ["Tropospheric temperature:", "7 datasets"], 1941.7, 0.51,
               [(yrs(TROP_SONDE_START, TROP_GRAY), TROP_GRAY, GRAY, LW),
                (yrs(TROP_SONDE_START, TROP_BLACK), TROP_BLACK, BLACK, LW),
                (yrs(TROP_SONDE_START, TROP_GREEN), TROP_GREEN, GREEN, LW),
                (yrs(TROP_SAT_START, TROP_BLUE), TROP_BLUE, BLUE, LW),
                (yrs(TROP_SAT_START, TROP_RED), TROP_RED, RED, LW)]),
    make_panel("R", 1, (-19.5, 23.0), [-10, 0, 10, 20], steps(-18, 22, 2), "0",
               None, ["Ocean heat content(0-700m):", "5 datasets"], 1941.7, 18.8,
               [(yrs(OHC_YELLOW_START, OHC_YELLOW), OHC_YELLOW, YELLOW, LW),
                (yrs(OHC_LORANGE_START, OHC_LORANGE), OHC_LORANGE, ORANGE, LW),
                (yrs(OHC_ORANGE_START, OHC_ORANGE), OHC_ORANGE, DORANGE, LW),
                (yrs(OHC_BLACK_START, OHC_BLACK), OHC_BLACK, BLACK, LW),
                (yrs(OHC_GREEN_START, OHC_GREEN), OHC_GREEN, GREEN, LW),
                (yrs(OHC_BLUE_START, OHC_BLUE), OHC_BLUE, BLUE, LW)]),
    make_panel("R", 2, (-0.35, 0.45), [-0.2, 0.0, 0.2, 0.4], steps(-0.3, 0.4, 0.1), "0.0",
               None, ["Specific humidity:", "4 datasets"], 1941.7, 0.365,
               [(yrs(HUM_BLUE_START, HUM_BLUE), HUM_BLUE, BLUE, LW),
                (yrs(HUM_RED_START, HUM_RED), HUM_RED, RED, LW),
                (yrs(HUM_GREEN_START, HUM_GREEN), HUM_GREEN, GREEN, LW),
                (yrs(HUM_BLACK_START, HUM_BLACK), HUM_BLACK, BLACK, LW)]),
    make_panel("R", 3, (-6.9, 7.4), steps(-6, 6, 2), steps(-6, 7, 1), "0",
               None, ["Northern hemisphere (March-", "April) snow cover: 2 datasets"],
               1942.7, 5.9,
               [(yrs(SNOW_BLUE_START, SNOW_BLUE), SNOW_BLUE, BLUE, LW),
                (yrs(SNOW_RED_START, SNOW_RED), SNOW_RED, RED, LW)]),
    make_panel("R", 4, (-15.05, 11.6), steps(-15, 10, 5), steps(-15, 10, 2.5), "0",
               None, ["Glacier mass balance:", "3 datasets"], 1959.0, 8.3,
               [(GLAC_TEAL_YEARS, GLAC_TEAL, TEAL, 2.2),
                (GLAC_GREEN_YEARS, GLAC_GREEN, GREEN, 2.2),
                (GLAC_BLUE_YEARS, GLAC_BLUE, SLATE, 2.2)]),
]

side_labels = [
    make_side_label(0, "Temperature\nanomaly (°C)", "15px"),
    make_side_label(1, "Ocean heat content\nanomaly (10²² J)", "15px"),
    make_side_label(2, "Specific humidity\nanomaly (g/kg)", "15px"),
    make_side_label(3, "Extent anomaly (10⁶km²)", "14px"),
    make_side_label(4, "Mass balance (10³GT)", "15px"),
]

layout = row(column(*left_panels), column(*right_panels), column(*side_labels))
open("out.html", "w").write(file_html(layout, INLINE))
